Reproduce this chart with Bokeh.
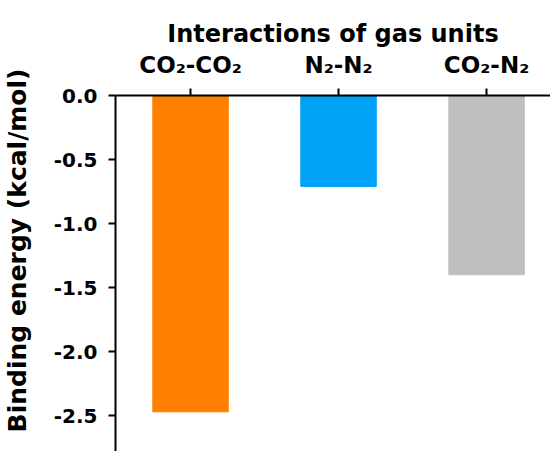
from bokeh.plotting import figure
from bokeh.models import Range1d, FixedTicker, NumeralTickFormatter, ColumnDataSource, Title
from bokeh.embed import file_html
from bokeh.resources import INLINE

categories = ["CO\u2082-CO\u2082", "N\u2082-N\u2082", "CO\u2082-N\u2082"]
energies = [-2.47, -0.71, -1.40]
bar_colors = ["#FF8000", "#00A2F5", "#BFBFBF"]
y_ticks = [0.0, -0.5, -1.0, -1.5, -2.0, -2.5]
x_title = "Interactions of gas units"
y_title = "Binding energy (kcal/mol)"

xs = list(range(len(categories)))
src = ColumnDataSource(dict(x=xs, bottom=energies, color=bar_colors))

FONT = "DejaVu Sans"

p = figure(width=550, height=451, x_range=Range1d(-0.507, 2.432), y_range=Range1d(-2.78, 0),
           x_axis_location="above", output_backend="svg", toolbar_location=None,
           min_border_left=115, min_border_top=95, min_border_right=0, min_border_bottom=0)
p.outline_line_color = None
p.xgrid.visible = False
p.ygrid.visible = False
p.background_fill_color = "white"

p.vbar(x="x", top=0, bottom="bottom", width=0.51, color="color", source=src)

xa = p.xaxis[0]
xa.ticker = FixedTicker(ticks=xs)
xa.major_label_overrides = {i: c for i, c in zip(xs, categories)}
xa.axis_label = x_title
xa.axis_label_text_font = FONT
xa.axis_label_text_font_style = "bold"
xa.axis_label_text_font_size = "24px"
xa.axis_label_text_color = "black"
xa.axis_label_standoff = 1
xa.major_label_text_font = FONT
xa.major_label_text_font_style = "bold"
xa.major_label_text_font_size = "23px"
xa.major_label_text_color = "black"
xa.major_label_standoff = 11
xa.major_tick_out = 7
xa.major_tick_in = 0
xa.minor_tick_out = 0
xa.minor_tick_in = 0
xa.axis_line_width = 2
xa.major_tick_line_width = 2
xa.axis_line_color = "black"

ya = p.yaxis[0]
ya.ticker = FixedTicker(ticks=y_ticks)
ya.formatter = NumeralTickFormatter(format="0.0")
ya.major_label_text_font = FONT
ya.major_label_text_font_style = "bold"
ya.major_label_text_font_size = "20px"
ya.major_label_text_color = "black"
ya.major_label_standoff = 11
ya.major_tick_out = 7
ya.major_tick_in = 0
ya.minor_tick_out = 0
ya.minor_tick_in = 0
ya.axis_line_width = 2
ya.major_tick_line_width = 2
ya.axis_line_color = "black"
# spacer so that the rotated title sits at the far left
ya.axis_label = " "
ya.axis_label_text_font_size = "1px"
ya.axis_label_standoff = 15

ytitle = Title(text=y_title, align="right", offset=-27, text_font=FONT, text_font_style="bold",
               text_font_size="25px", text_color="black", standoff=0)
p.add_layout(ytitle, "left")

open("out.html", "w").write(file_html(p, INLINE))
